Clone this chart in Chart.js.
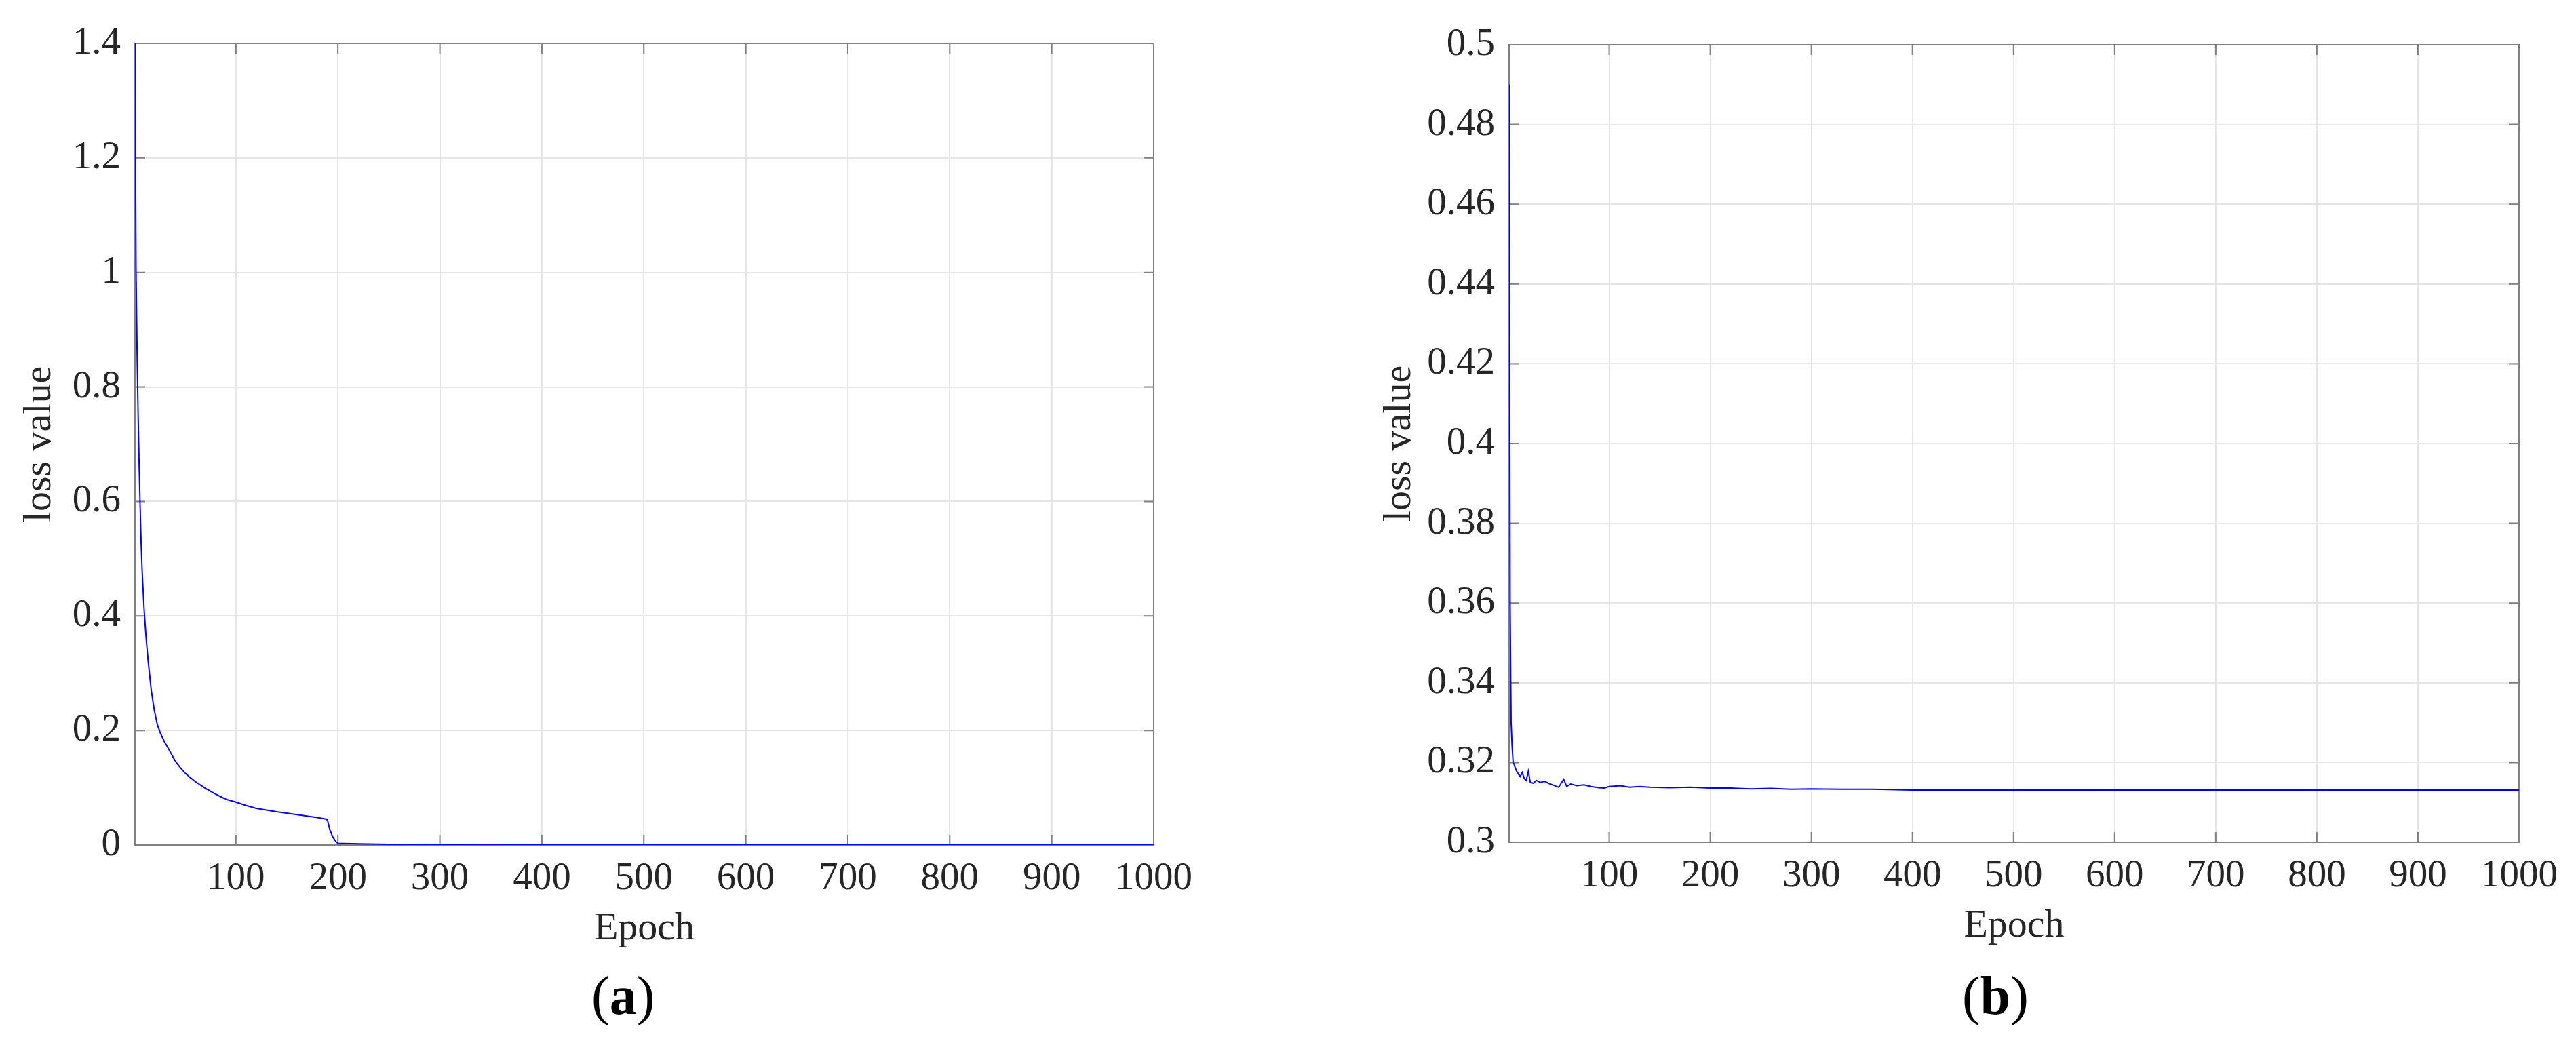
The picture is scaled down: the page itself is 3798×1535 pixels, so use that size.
<!DOCTYPE html>
<html>
<head>
<meta charset="utf-8">
<title>loss value vs Epoch</title>
<script src="https://cdn.jsdelivr.net/npm/chart.js@4.4.1/dist/chart.umd.min.js"></script>
<style>
  html, body { margin: 0; padding: 0; background: #fff; }
  body { width: 3798px; height: 1535px; position: relative; overflow: hidden;
         font-family: "Liberation Serif", "Times New Roman", serif; }
  canvas { position: absolute; top: 0; }
  #chartA { left: 0; }
  #chartB { left: 1900px; }
  .panel-label { position: absolute; top: 1428px; font-size: 80px; line-height: 80px;
                 color: #000; white-space: nowrap; }
</style>
</head>
<body>
<canvas id="chartA" width="1850" height="1535"></canvas>
<canvas id="chartB" width="1898" height="1535"></canvas>
<div class="panel-label" style="left:872px">(<b>a</b>)</div>
<div class="panel-label" style="left:2893px">(<b>b</b>)</div>

<script>
// ── Data ───────────────────────────────────────
const xTicks = [100, 200, 300, 400, 500, 600, 700, 800, 900, 1000];

// (a)
const epochsA = [1, 2, 3, 4, 5, 6, 7, 8, 9, 10, 12, 14, 17, 20, 23, 26, 30, 34, 40, 45,
                 50, 55, 60, 70, 80, 90, 100, 110, 120, 140, 160, 180, 189, 190, 192, 195,
                 198, 200, 220, 260, 300, 400, 1000];
const lossA = [1.40, 1.01, 0.87, 0.76, 0.67, 0.595, 0.53, 0.48, 0.445, 0.41, 0.36, 0.32,
               0.27, 0.235, 0.21, 0.195, 0.18, 0.168, 0.148, 0.136, 0.126, 0.118, 0.111,
               0.099, 0.089, 0.080, 0.075, 0.069, 0.064, 0.058, 0.053, 0.048, 0.045, 0.042,
               0.027, 0.014, 0.006, 0.003, 0.002, 0.001, 0.0005, 0.0003, 0.0002];
const yTicksA = [0, 0.2, 0.4, 0.6, 0.8, 1, 1.2, 1.4];

// (b)
const epochsB = [1, 2, 3, 4, 5, 6, 8, 10, 12, 14, 16, 18, 20, 22, 25, 28, 32, 36, 40, 45,
                 50, 53, 55, 58, 62, 68, 75, 82, 90, 95, 100, 111, 120, 130, 140, 160, 180,
                 200, 220, 240, 260, 280, 300, 330, 360, 400, 1000];
const lossB = [0.490, 0.360, 0.330, 0.324, 0.320, 0.3195, 0.318, 0.3172, 0.3165, 0.3175,
               0.3160, 0.3155, 0.3178, 0.3150, 0.3148, 0.3155, 0.3150, 0.3153, 0.3148,
               0.3143, 0.3138, 0.3150, 0.3158, 0.3140, 0.3146, 0.3142, 0.3144, 0.3140,
               0.3137, 0.3136, 0.3140, 0.3142, 0.3138, 0.3140, 0.3138, 0.3137, 0.3138,
               0.3136, 0.3136, 0.3134, 0.3135, 0.3133, 0.3134, 0.3133, 0.3133, 0.3131, 0.3131];
const yTicksB = [0.3, 0.32, 0.34, 0.36, 0.38, 0.4, 0.42, 0.44, 0.46, 0.48, 0.5];

// ── Style ──────────────────────────────────────
const FONT = '"Liberation Serif", "Times New Roman", serif';
const TEXT = '#262626';
const AXIS = '#808080';
const GRID = '#e6e6e6';

// MATLAB-like box with inward ticks on all four sides
const matlabBox = {
  id: 'matlabBox',
  beforeDatasetsDraw(chart) {
    const { ctx, chartArea: a, scales: { x, y } } = chart;
    const len = 15;
    ctx.save();
    ctx.strokeStyle = AXIS;
    ctx.lineWidth = 2;
    ctx.strokeRect(a.left, a.top, a.right - a.left, a.bottom - a.top);
    ctx.beginPath();
    x.ticks.forEach(t => {
      const px = x.getPixelForValue(t.value);
      ctx.moveTo(px, a.bottom); ctx.lineTo(px, a.bottom - len);
      ctx.moveTo(px, a.top); ctx.lineTo(px, a.top + len);
    });
    y.ticks.forEach(t => {
      const py = y.getPixelForValue(t.value);
      ctx.moveTo(a.left, py); ctx.lineTo(a.left + len, py);
      ctx.moveTo(a.right, py); ctx.lineTo(a.right - len, py);
    });
    ctx.stroke();
    ctx.restore();
  }
};

function lossChart(id, epochs, loss, yTicks, pad, yTitlePad) {
  const points = epochs.map((e, i) => ({ x: e, y: loss[i] }));
  return new Chart(document.getElementById(id), {
    type: 'line',
    data: {
      datasets: [{
        data: points,
        borderColor: '#0000ff',
        borderWidth: 2,
        pointRadius: 0,
        tension: 0,
        fill: false,
      }]
    },
    options: {
      responsive: false,
      animation: false,
      devicePixelRatio: 1,
      layout: { padding: pad },
      plugins: { legend: { display: false }, tooltip: { enabled: false } },
      scales: {
        x: {
          type: 'linear',
          min: 1,
          max: 1000,
          afterBuildTicks: s => { s.ticks = xTicks.map(v => ({ value: v })); },
          afterFit: s => { s.height = 160; },
          grid: { color: GRID, lineWidth: 2, drawTicks: false },
          border: { display: false },
          ticks: { color: TEXT, padding: 16, maxRotation: 0, autoSkip: false,
                   font: { family: FONT, size: 57 }, callback: v => String(v) },
          title: { display: true, text: 'Epoch', color: TEXT,
                   font: { family: FONT, size: 58 }, padding: { top: 0, bottom: 1 } }
        },
        y: {
          type: 'linear',
          min: yTicks[0],
          max: yTicks[yTicks.length - 1],
          afterBuildTicks: s => { s.ticks = yTicks.map(v => ({ value: v })); },
          afterFit: s => { s.width = 199; },
          grid: { color: GRID, lineWidth: 2, drawTicks: false },
          border: { display: false },
          ticks: { color: TEXT, padding: 21, autoSkip: false,
                   font: { family: FONT, size: 57 }, callback: v => String(v) },
          title: { display: true, text: 'loss value', color: TEXT,
                   font: { family: FONT, size: 58 }, padding: { top: yTitlePad, bottom: 0 } }
        }
      }
    },
    plugins: [matlabBox]
  });
}

lossChart('chartA', epochsA, lossA, yTicksA, { left: 0, top: 64, right: 149, bottom: 129 }, 24);
lossChart('chartB', epochsB, lossB, yTicksB, { left: 126, top: 66, right: 84, bottom: 133 }, 3);
</script>
</body>
</html>
